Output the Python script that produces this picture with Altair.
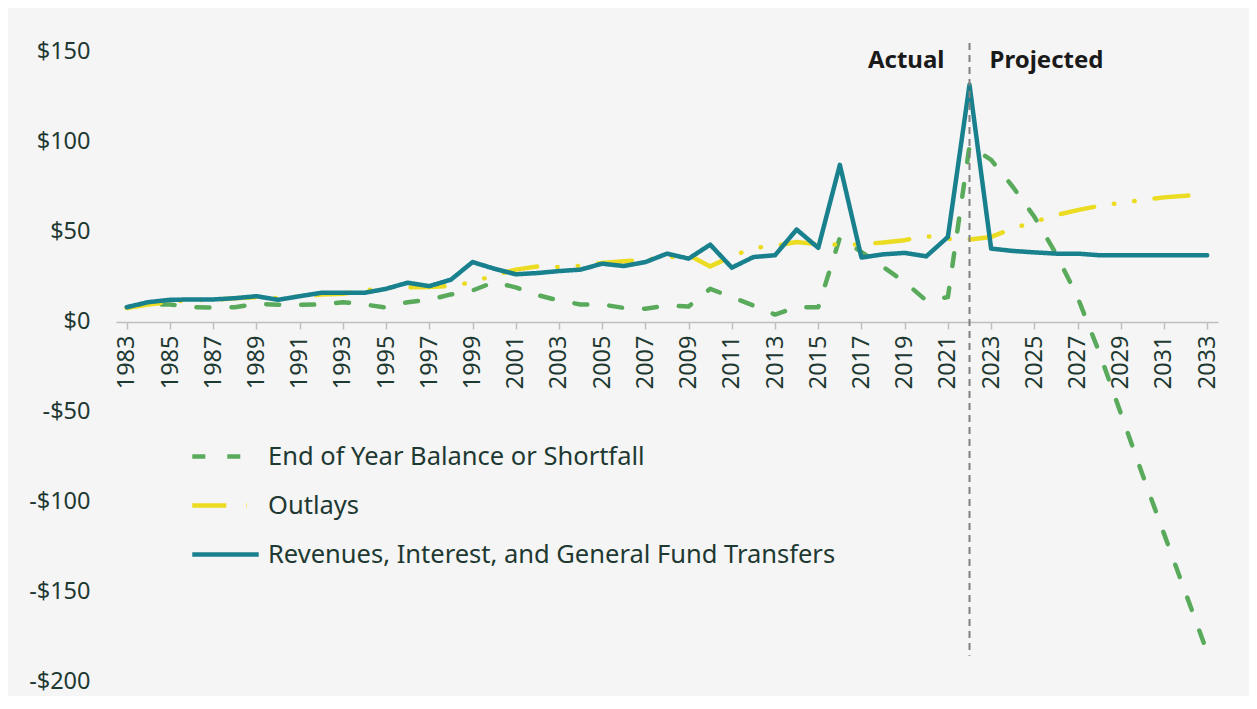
import altair as alt
import pandas as pd

years = list(range(1983, 2034))

revenues = [8.0, 10.8, 12.1, 12.3, 12.3, 13.0, 14.1, 12.1, 14.1, 16.0,
            16.0, 16.0, 18.2, 21.6, 19.7, 23.3, 33.1, 29.4, 26.3, 27.0,
            28.1, 28.9, 32.2, 30.9, 33.1, 37.8, 35.0, 42.8, 30.0, 35.9,
            36.9, 51.2, 41.0, 87.2, 35.6, 37.4, 38.2, 36.3, 47.1, 131.8,
            40.6, 39.3, 38.5, 37.8, 37.8, 36.9, 36.9, 36.9, 36.9, 36.9, 36.9]

outlays = [7.5, 9.5, 11.0, 12.0, 12.0, 13.0, 13.5, 13.0, 14.0, 15.0,
           15.5, 17.3, 18.8, 19.0, 19.3, 19.7, 22.0, 25.7, 28.9, 30.7,
           30.4, 31.0, 32.6, 33.5, 34.4, 35.6, 36.9, 30.7, 36.3, 41.0,
           42.1, 44.3, 43.0, 42.8, 43.0, 44.0, 45.3, 47.5, 46.0, 45.6,
           47.1, 51.8, 55.5, 59.2, 62.0, 64.4, 66.1, 67.6, 69.1, 70.0, 71.3]

balance = [8.0, 9.5, 9.5, 8.0, 7.8, 8.0, 9.9, 9.3, 9.3, 9.5,
           10.8, 9.5, 7.8, 10.8, 12.1, 15.1, 17.3, 22.0, 19.0, 14.8,
           11.7, 9.5, 9.5, 7.6, 7.1, 8.9, 8.4, 18.2, 13.6, 8.9,
           3.9, 8.0, 8.0, 46.7, 38.7, 30.4, 22.0, 11.7, 13.6, 97.8,
           90.0, 75.0, 58.3, 37.8, 13.6, -17.0, -51.0, -85.0, -118.0, -151.0, -184.0]

series_names = ["End of Year Balance or Shortfall", "Outlays",
                "Revenues, Interest, and General Fund Transfers"]
series_colors = ["#5aaa5c", "#ebdc22", "#19808e"]
series_dashes = [[13, 22], [34, 20, 0.5, 20, 0.5, 20], [1, 0]]

y_ticks = [-200, -150, -100, -50, 0, 50, 100, 150]

split_year = 2022
split_top = 155
split_bottom = -186
annot_y = 145
annot_labels = ["Actual", "Projected"]

rows = []
for name, vals in zip(series_names, [balance, outlays, revenues]):
    for yr, v in zip(years, vals):
        rows.append({"year": yr, "value": v, "series": name})
df = pd.DataFrame(rows)

FONT = "Noto Sans"
TXT = "#1e3932"

x_scale = alt.Scale(domain=[1982.5, 2033.5], nice=False, zero=False)
y_scale = alt.Scale(domain=[-200, 155], nice=False, zero=False)

legend_kw = dict(title=None, orient="none", legendX=74, legendY=378,
                 symbolType="stroke", symbolSize=4410, symbolStrokeWidth=4.5,
                 labelFontSize=25.5, labelColor=TXT, labelFont=FONT,
                 labelOffset=7, rowPadding=0, labelLimit=800)

lines = alt.Chart(df).mark_line(strokeWidth=4.5, strokeCap="round", strokeJoin="round").encode(
    x=alt.X("year:Q", scale=x_scale, title=None,
            axis=alt.Axis(values=years, labelExpr="datum.value % 2 == 1 ? datum.value : ''",
                          labelAngle=270, labelFontSize=23.5, labelColor=TXT, labelFont=FONT,
                          offset=-359, domainColor="#bfbfbf", domainWidth=1.5,
                          tickColor="#bfbfbf", tickWidth=1.5, tickSize=7, labelPadding=6,
                          grid=False, labelOverlap=False, labelFlush=False)),
    y=alt.Y("value:Q", scale=y_scale, title=None,
            axis=alt.Axis(values=y_ticks, domain=False, ticks=False, grid=False,
                          labelExpr="datum.value < 0 ? '-$' + abs(datum.value) : '$' + datum.value",
                          labelFontSize=23.5, labelColor=TXT, labelFont=FONT, labelPadding=26)),
    color=alt.Color("series:N", scale=alt.Scale(domain=series_names, range=series_colors),
                    legend=alt.Legend(**legend_kw)),
    strokeDash=alt.StrokeDash("series:N", scale=alt.Scale(domain=series_names, range=series_dashes),
                              legend=alt.Legend(**legend_kw)),
)

split_df = pd.DataFrame({"year": [split_year], "top": [split_top], "bottom": [split_bottom]})
rule = alt.Chart(split_df).mark_rule(color="#808080", strokeWidth=2, strokeDash=[7, 5]).encode(
    x=alt.X("year:Q", scale=x_scale),
    y=alt.Y("top:Q", scale=y_scale),
    y2="bottom:Q",
)

ann_df = pd.DataFrame({"year": [split_year], "y": [annot_y], "a": [annot_labels[0]], "p": [annot_labels[1]]})
text_actual = alt.Chart(ann_df).mark_text(align="right", baseline="middle", dx=-25, fontSize=24,
                                          fontWeight="bold", font=FONT, color="#1a1a1a").encode(
    x=alt.X("year:Q", scale=x_scale), y=alt.Y("y:Q", scale=y_scale), text="a:N")
text_proj = alt.Chart(ann_df).mark_text(align="left", baseline="middle", dx=20, fontSize=24,
                                        fontWeight="bold", font=FONT, color="#1a1a1a").encode(
    x=alt.X("year:Q", scale=x_scale), y=alt.Y("y:Q", scale=y_scale), text="p:N")

chart = alt.layer(lines, rule, text_actual, text_proj).properties(
    width=1102, height=638,
    autosize=alt.AutoSizeParams(type="none"),
    padding={"left": 108, "top": 35, "right": 31, "bottom": 15},
    background="#f5f5f5",
).configure_view(stroke=None)

chart.save("out.html", embed_options={"renderer": "svg", "actions": False})
